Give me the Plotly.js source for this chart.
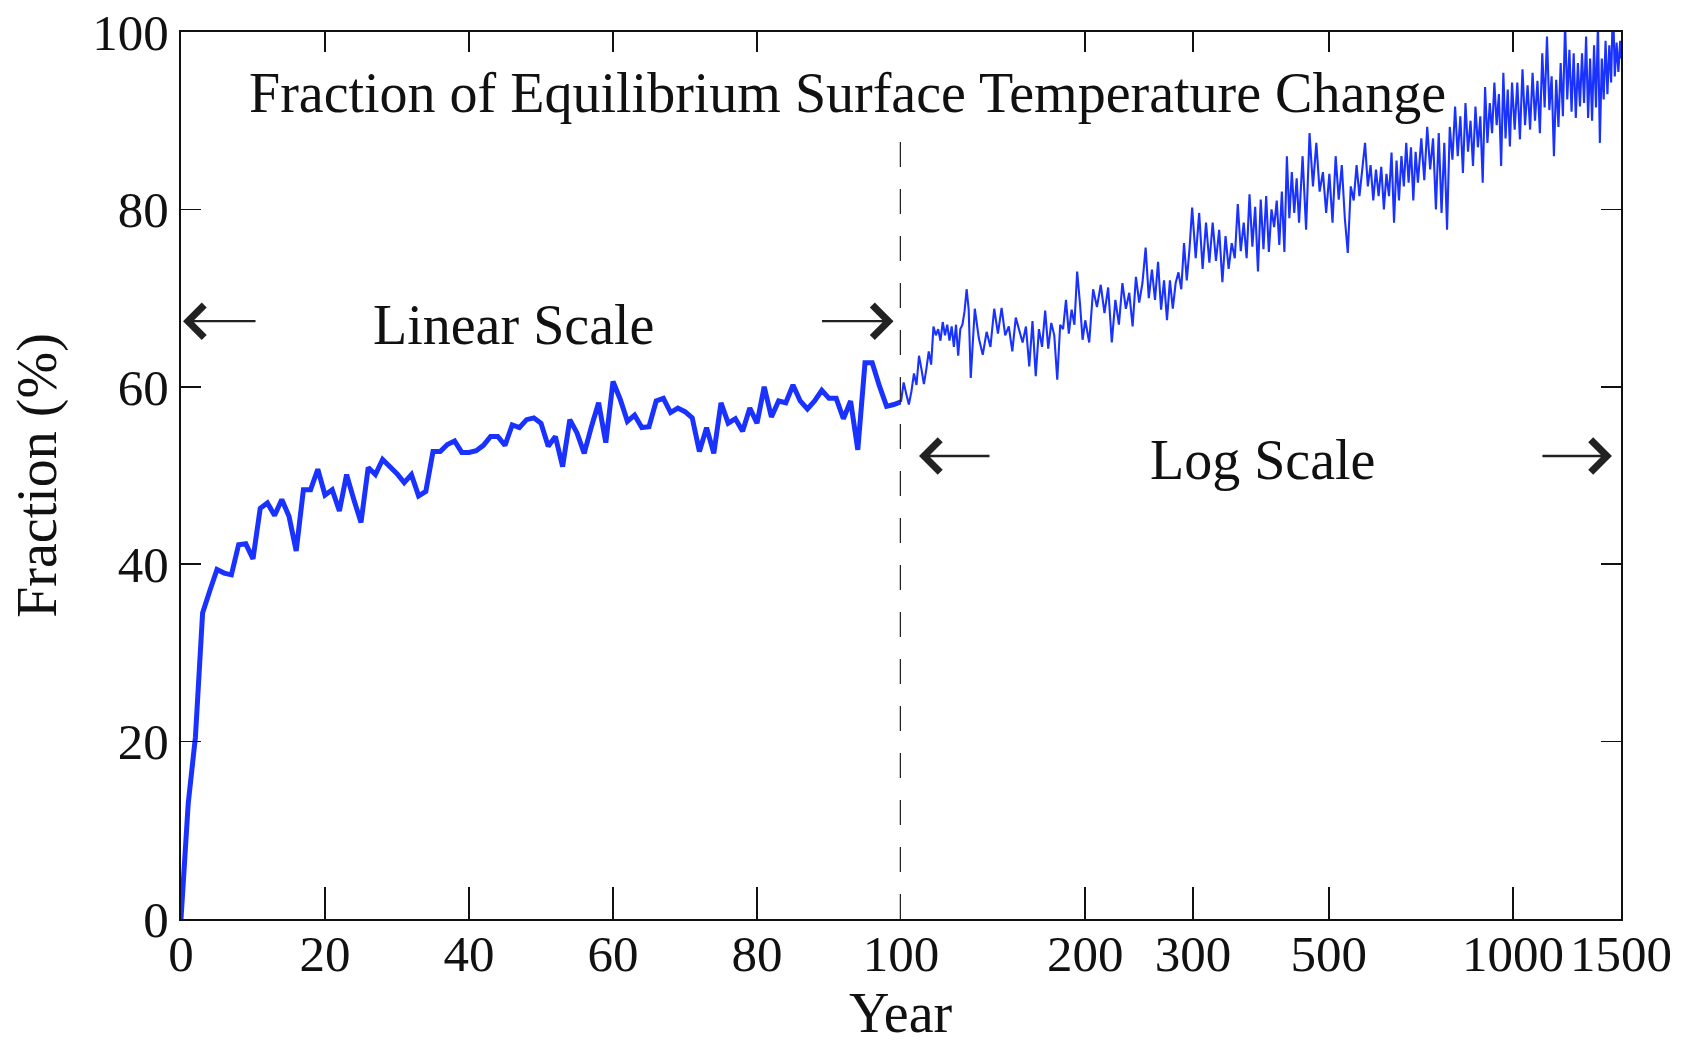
<!DOCTYPE html>
<html>
<head>
<meta charset="utf-8">
<script src="https://cdn.plot.ly/plotly-3.0.1.min.js"></script>
<style>html,body{margin:0;padding:0;background:#fff;}#chart{width:1692px;height:1048px;}</style>
</head>
<body>
<div id="chart"></div>
<script>
// ---- Data ----
const yearsLinear = [0,1,2,3,4,5,6,7,8,9,10,11,12,13,14,15,16,17,18,19,20,21,22,23,24,25,26,27,28,29,30,31,32,33,34,35,36,37,38,39,40,41,42,43,44,45,46,47,48,49,50,51,52,53,54,55,56,57,58,59,60,61,62,63,64,65,66,67,68,69,70,71,72,73,74,75,76,77,78,79,80,81,82,83,84,85,86,87,88,89,90,91,92,93,94,95,96,97,98,99,100];
const fractionLinear = [0,13,20.5,34.5,37,39.4,39.0,38.8,42.2,42.3,
  40.6,46.3,46.9,45.5,47.3,45.4,41.5,48.4,48.4,50.7,
  47.8,48.4,46.0,50.1,47.3,44.7,50.9,50.1,51.8,51.0,
  50.2,49.2,50.1,47.7,48.2,52.7,52.7,53.5,53.9,52.6,
  52.6,52.8,53.4,54.4,54.4,53.4,55.7,55.4,56.3,56.5,
  55.9,53.3,54.4,51.0,56.3,54.8,52.5,55.5,58.2,53.7,
  60.6,58.6,56.1,56.8,55.4,55.5,58.4,58.7,57.1,57.6,
  57.2,56.5,52.7,55.4,52.5,58.2,55.9,56.4,55.0,57.6,
  55.9,60.0,56.6,58.4,58.2,60.2,58.4,57.5,58.4,59.6,
  58.7,58.7,56.4,58.4,52.9,62.7,62.7,60.1,57.8,58.0,
  58.3];

const yearsLog = [100,101,102,103,104,105,106,107,108,109,110,111,112,113,114,115,116,117,118,119,120,121,122,123,124,125,126,127,128,129,130,
  132,134,136,138,140,142,144,146,148,150,152,154,156,158,160,162,164,166,168,170,172,174,176,178,180,182,184,186,188,190,192,194,196,198,200,
  203,206,209,212,215,218,221,224,227,230,233,236,239,242,245,248,251,254,257,260,263,266,269,272,275,278,281,284,287,290,293,296,299,
  303,307,311,315,319,323,327,331,335,339,343,347,351,355,359,363,367,371,375,379,383,387,391,395,399,403,407,411,415,419,423,427,431,435,439,443,447,
  453,459,465,471,477,483,489,495,501,507,513,519,525,531,537,543,549,555,561,567,573,579,585,591,597,603,609,615,621,627,633,639,645,651,657,663,669,675,681,687,693,699,
  708,716,724,732,740,748,756,764,772,780,788,796,804,812,820,828,836,844,852,860,868,876,884,892,900,908,916,924,932,940,948,956,964,972,980,988,996,
  1006,1016,1026,1036,1046,1056,1066,1076,1086,1096,1106,1116,1126,1136,1146,1156,1166,1176,1186,1196,1206,1216,1226,1236,1246,1256,1266,1276,1286,1296,1306,1316,1326,1336,1346,1356,1366,1376,1386,1396,1406,1416,1426,1436,1446,1456,1466,1476,1486,1496,1500];
const fractionLog = [58.3,60.5,59.2,58.0,59.5,61.5,60.2,63.5,62.0,60.3,62.0,64.0,62.5,66.8,65.8,66.5,65.2,67.3,65.8,67.0,65.2,66.8,64.5,67.0,63.5,66.5,67.0,68.5,71.0,68.7,61.0,
  68.8,65.5,63.6,66.2,64.5,68.8,66.0,68.9,65.8,66.8,64.0,67.8,66.5,65.0,66.8,62.3,67.4,61.2,66.5,64.5,68.6,64.3,67.2,65.8,60.8,67.0,66.5,69.8,66.0,68.7,67.0,73.0,69.5,65.3,67.5,
  65.0,71.0,69.0,71.5,68.3,71.2,65.0,69.8,67.0,71.7,68.8,70.6,66.8,72.4,69.5,71.7,75.7,70.0,73.2,69.8,74.1,68.7,72.0,67.5,72.0,68.8,71.7,72.9,71.0,76.2,72.0,75.5,80.2,
  74.5,79.6,73.3,78.5,74.0,78.5,74.2,77.7,71.8,77.0,73.3,76.2,74.5,80.6,75.3,78.5,74.5,81.7,75.8,80.3,73.0,81.1,75.5,81.5,75.2,80.0,78.0,81.0,76.0,82.0,75.2,86.0,79.0,84.2,79.6,83.5,78.5,
  86.0,77.7,88.6,82.6,87.5,82.0,84.2,79.6,84.0,78.5,86.0,81.1,85.0,79.0,75.1,82.6,81.0,85.0,81.5,84.5,87.5,82.6,85.0,81.0,84.5,81.5,84.8,80.0,84.0,81.5,86.4,78.5,85.5,81.0,86.0,82.6,87.5,83.0,87.0,81.0,86.5,83.0,
  88.0,83.3,89.3,84.5,88.0,80.0,88.6,79.6,87.5,77.7,89.3,85.6,91.6,86.0,90.5,84.1,92.0,86.5,90.0,84.9,91.6,87.0,90.5,83.0,93.8,87.5,92.0,88.6,94.3,89.5,93.0,84.9,95.4,88.0,93.5,87.1,94.3,
  89.0,94.3,87.9,95.8,89.5,94.0,89.0,95.4,90.0,94.5,88.6,97.6,91.5,99.5,91.2,95.0,86.0,94.6,89.3,96.5,90.5,101.0,92.4,98.0,91.0,97.6,90.3,96.5,91.6,97.6,92.0,99.5,90.3,97.0,90.0,98.5,91.5,101.0,87.5,97.0,92.4,99.0,93.0,98.5,94.3,103.6,95.0,98.8,95.5,99.0,97.0];

const linearTicks = [0,20,40,60,80,100];
const logTicks = [200,300,500,1000,1500];
const yTicks = [0,20,40,60,80,100];
const titleText = 'Fraction of Equilibrium Surface Temperature Change';
const linearLabel = 'Linear Scale';
const logLabel = 'Log Scale';
const xLabel = 'Year';
const yLabel = 'Fraction (%)';

// ---- Styles ----
const FONT = '"Liberation Serif", "Times New Roman", serif';
const BLUE = 'rgb(25,50,255)';
const INK = '#111';
const tickFont = {family: FONT, size: 51, color: INK};
const textFont = {family: FONT, size: 56, color: INK};
const LOGMAX = Math.log10(1500) + 0.0002;

const traces = [
  {x: yearsLinear, y: fractionLinear, xaxis: 'x', yaxis: 'y', type: 'scatter', mode: 'lines',
   line: {color: BLUE, width: 5}, hoverinfo: 'skip', showlegend: false},
  {x: yearsLog, y: fractionLog, xaxis: 'x2', yaxis: 'y', type: 'scatter', mode: 'lines',
   line: {color: BLUE, width: 2.1}, hoverinfo: 'skip', showlegend: false},
  // empty helpers so the frame axes (top and right) are drawn
  {x: [], y: [], xaxis: 'x3', yaxis: 'y', type: 'scatter', mode: 'lines', hoverinfo: 'skip', showlegend: false},
  {x: [], y: [], xaxis: 'x4', yaxis: 'y', type: 'scatter', mode: 'lines', hoverinfo: 'skip', showlegend: false},
  {x: [], y: [], xaxis: 'x2', yaxis: 'y2', type: 'scatter', mode: 'lines', hoverinfo: 'skip', showlegend: false}
];

const baseAxis = {showgrid: false, zeroline: false, showline: true, linecolor: INK, linewidth: 2,
  ticks: 'inside', tickcolor: INK, tickwidth: 1.6, tickfont: tickFont, fixedrange: true, tickangle: 0};

const layout = {
  width: 1692, height: 1048,
  margin: {l: 181, r: 71, t: 32, b: 129},
  paper_bgcolor: '#fff', plot_bgcolor: '#fff',
  showlegend: false,
  xaxis: Object.assign({}, baseAxis, {domain: [0, 0.5], range: [0, 100], type: 'linear',
    tickmode: 'array', tickvals: linearTicks, ticklen: 32, anchor: 'y', ticklabelstandoff: -11}),
  xaxis2: Object.assign({}, baseAxis, {domain: [0.5, 1], range: [2, LOGMAX], type: 'log',
    tickmode: 'array', tickvals: logTicks, ticktext: logTicks.map(String), ticklen: 32, anchor: 'y',
    ticklabelstandoff: -11}),
  xaxis3: Object.assign({}, baseAxis, {overlaying: 'x', side: 'top', range: [0, 100], type: 'linear',
    tickmode: 'array', tickvals: linearTicks, ticklen: 20, showticklabels: false, anchor: 'y'}),
  xaxis4: Object.assign({}, baseAxis, {overlaying: 'x2', side: 'top', range: [2, LOGMAX], type: 'log',
    tickmode: 'array', tickvals: [100].concat(logTicks), ticklen: 20, showticklabels: false, anchor: 'y'}),
  yaxis: Object.assign({}, baseAxis, {domain: [0, 1], range: [0, 100], tickmode: 'array', tickvals: yTicks,
    ticklen: 20, anchor: 'x',
    title: {text: yLabel, font: textFont, standoff: 18}}),
  yaxis2: Object.assign({}, baseAxis, {overlaying: 'y', side: 'right', anchor: 'x2', range: [0, 100],
    tickmode: 'array', tickvals: yTicks, ticklen: 20, showticklabels: false}),
  shapes: [
    {type: 'line', xref: 'x', yref: 'y', x0: 100, x1: 100, y0: 0, y1: 90,
     line: {color: '#222', width: 2.5, dash: '25px,22px'}}
  ],
  annotations: [
    {text: titleText, xref: 'paper', yref: 'paper', x: 0.463, y: 0.931, showarrow: false,
     xanchor: 'center', yanchor: 'middle', font: textFont},
    {text: linearLabel, xref: 'paper', yref: 'paper', x: 0.2306, y: 0.670, showarrow: false,
     xanchor: 'center', yanchor: 'middle', font: textFont},
    {text: logLabel, xref: 'paper', yref: 'paper', x: 0.751, y: 0.517, showarrow: false,
     xanchor: 'center', yanchor: 'middle', font: textFont},
    {text: xLabel, xref: 'paper', yref: 'paper', x: 0.5, y: -0.1435, showarrow: false,
     xanchor: 'center', yanchor: 'bottom', font: textFont},
    {text: '', xref: 'paper', yref: 'paper', x: 0.0014, y: 0.674, ax: 74, ay: 0, showarrow: true,
     arrowhead: 4, arrowsize: 2.6, arrowwidth: 2.4, arrowcolor: '#222'},
    {text: '', xref: 'paper', yref: 'paper', x: 0.4948, y: 0.674, ax: -73, ay: 0, showarrow: true,
     arrowhead: 4, arrowsize: 2.6, arrowwidth: 2.4, arrowcolor: '#222'},
    {text: '', xref: 'paper', yref: 'paper', x: 0.5125, y: 0.522, ax: 72, ay: 0, showarrow: true,
     arrowhead: 4, arrowsize: 2.6, arrowwidth: 2.4, arrowcolor: '#222'},
    {text: '', xref: 'paper', yref: 'paper', x: 0.9937, y: 0.522, ax: -71, ay: 0, showarrow: true,
     arrowhead: 4, arrowsize: 2.6, arrowwidth: 2.4, arrowcolor: '#222'}
  ]
};

Plotly.newPlot('chart', traces, layout, {staticPlot: true, displayModeBar: false});
</script>
</body>
</html>
